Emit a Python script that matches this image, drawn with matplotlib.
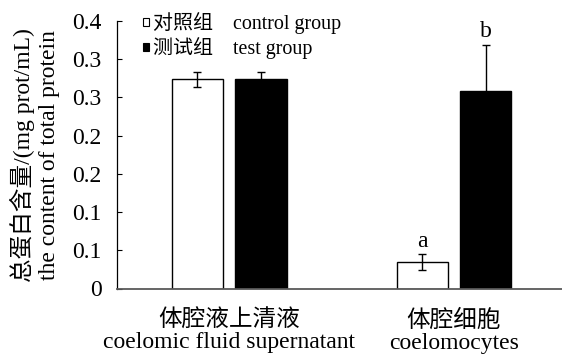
import matplotlib
matplotlib.use("Agg")
import matplotlib.pyplot as plt
import numpy as np
from matplotlib.patches import Rectangle

# data
categories = ["体腔液上清液\ncoelomic fluid supernatant", "体腔细胞\ncoelomocytes"]
control = [0.313, 0.039]
control_err = [0.011, 0.012]
test = [0.313, 0.296]
test_err = [0.011, 0.068]
control_marks = ["", "a"]
test_marks = ["", "b"]
ytick_labels = ["0", "0.1", "0.1", "0.2", "0.2", "0.3", "0.3", "0.4"]

plt.rcParams["font.family"] = ["Liberation Serif", "Noto Sans CJK SC"]

fig = plt.figure(figsize=(5.62, 3.54), dpi=100)
ax = fig.add_axes([117 / 562, 1 - 288.5 / 354, 445 / 562, 267.5 / 354])

x = np.arange(len(categories))
off = 0.142
w = 0.227

b1 = ax.bar(x - off, control, w, color="white", edgecolor="black", linewidth=1.0)
b2 = ax.bar(x + off, test, w, color="black", edgecolor="black", linewidth=1.0)
ax.errorbar(x - off, control, yerr=control_err, fmt="none", ecolor="black",
            elinewidth=1.0, capsize=3.2, capthick=1.0)
ax.errorbar(x + off, test, yerr=test_err, fmt="none", ecolor="black",
            elinewidth=1.0, capsize=3.2, capthick=1.0)

for xi, v, e, m in zip(x - off, control, control_err, control_marks):
    if m:
        ax.annotate(m, (xi, v + e), xytext=(0, 2), textcoords="offset points",
                    ha="center", va="bottom", fontsize=17)
for xi, v, e, m in zip(x + off, test, test_err, test_marks):
    if m:
        ax.annotate(m, (xi, v + e), xytext=(0, 2), textcoords="offset points",
                    ha="center", va="bottom", fontsize=17)

ax.set_xlim(-0.498, 1.48)
ax.set_ylim(0, 0.4)
ax.set_yticks(np.linspace(0, 0.4, len(ytick_labels)))
ax.set_yticklabels(ytick_labels)
ax.set_xticks(x)
ax.set_xticklabels(categories, linespacing=1.05)
ax.tick_params(axis="y", direction="in", length=3.6, width=0.8, pad=11, labelsize=17)
ax.tick_params(axis="x", length=0, pad=15, labelsize=17)

for s in ("top", "right"):
    ax.spines[s].set_visible(False)
ax.spines["left"].set_linewidth(0.9)
ax.spines["bottom"].set_color("#595959")
ax.spines["bottom"].set_linewidth(1.3)

ax.set_ylabel("总蛋白含量/(mg prot/mL)\nthe content of total protein",
              fontsize=17, linespacing=1.25)
ax.yaxis.set_label_coords(-0.128, 0.5)

handles = [Rectangle((0, 0), 1, 1, facecolor="white", edgecolor="black", linewidth=0.8),
           Rectangle((0, 0), 1, 1, facecolor="black", edgecolor="black", linewidth=0.8)]
ax.legend(handles, ["对照组    control group", "测试组    test group"],
          loc="upper left", bbox_to_anchor=(143 / 562, 1 - 12 / 354),
          bbox_transform=fig.transFigure, frameon=False, fontsize=14.4,
          handlelength=0.28, handleheight=0.28, handletextpad=0.2,
          labelspacing=0.15, borderpad=0, borderaxespad=0)

fig.savefig("out.png", dpi=100)
